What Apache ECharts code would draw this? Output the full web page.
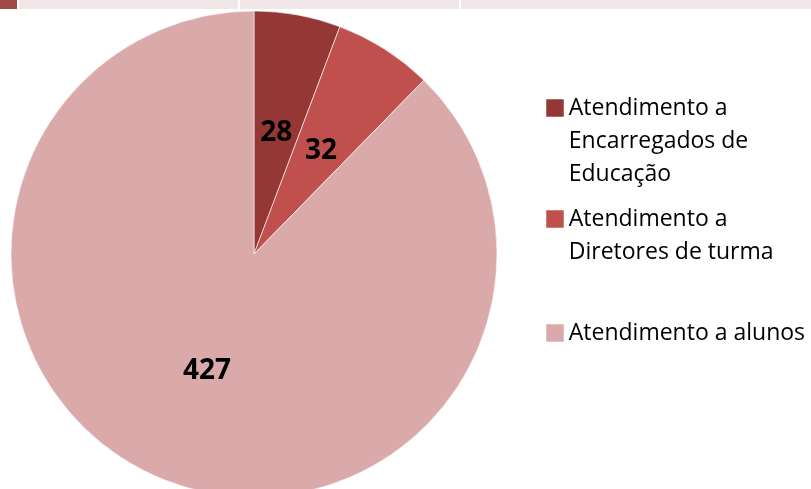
<!DOCTYPE html>
<html><head><meta charset="utf-8">
<script src="https://cdn.jsdelivr.net/npm/echarts@6/dist/echarts.min.js"></script>
<style>html,body{margin:0;padding:0;background:#fff}#c{width:811px;height:489px}</style>
</head><body><div id="c"></div>
<script>
const categories = ['Atendimento a Encarregados de Educação', 'Atendimento a Diretores de turma', 'Atendimento a alunos'];
const legendLines = [['Atendimento a', 'Encarregados de', 'Educação'], ['Atendimento a', 'Diretores de turma'], ['Atendimento a alunos']];
const values = [28, 32, 427];
const colors = ['#953735', '#C0504D', '#DAA9AA'];

const FONT = 'Open Sans';
const LH = 33;
const BOX = 17.5;
const iconTops = [101, 212, 326];
const chart = echarts.init(document.getElementById('c'), null, {renderer: 'canvas'});
const legends = categories.map((name, i) => {
  const n = legendLines[i].length;
  // pad with empty lines above so the icon sits beside the first line
  const lines = new Array(n - 1).fill('').concat(legendLines[i]);
  const blockH = lines.length * LH;
  return {
    data: [name],
    left: 546.25, top: iconTops[i] - 1.75 - (blockH / 2 - BOX / 2),
    padding: 0,
    orient: 'vertical',
    itemWidth: BOX, itemHeight: BOX,
    icon: 'rect',
    itemStyle: {borderWidth: 0},
    selectedMode: false,
    formatter: () => lines.join('\n'),
    textStyle: {fontFamily: FONT, fontSize: 23, color: '#000', lineHeight: LH}
  };
});
chart.setOption({
  animation: false,
  color: colors,
  graphic: [
    {type: 'rect', shape: {x: 0, y: 0, width: 17, height: 9}, style: {fill: '#A04A48'}},
    {type: 'rect', shape: {x: 19, y: 0, width: 219, height: 9}, style: {fill: '#F2E7E8'}},
    {type: 'rect', shape: {x: 240, y: 0, width: 219, height: 9}, style: {fill: '#F2E7E8'}},
    {type: 'rect', shape: {x: 461, y: 0, width: 350, height: 9}, style: {fill: '#F2E7E8'}}
  ],
  legend: legends,
  series: [{
    type: 'pie',
    center: [254, 254],
    radius: [0, 243],
    startAngle: 90,
    clockwise: true,
    itemStyle: {borderColor: '#fff', borderWidth: 0.6},
    label: {show: true, position: 'inside', formatter: '{c}', fontFamily: FONT, fontWeight: 'bold', fontSize: 28, color: '#000', offset: [0, 2]},
    labelLine: {show: false},
    emphasis: {disabled: true},
    data: categories.map((n, i) => ({name: n, value: values[i]}))
  }]
});
</script></body></html>
